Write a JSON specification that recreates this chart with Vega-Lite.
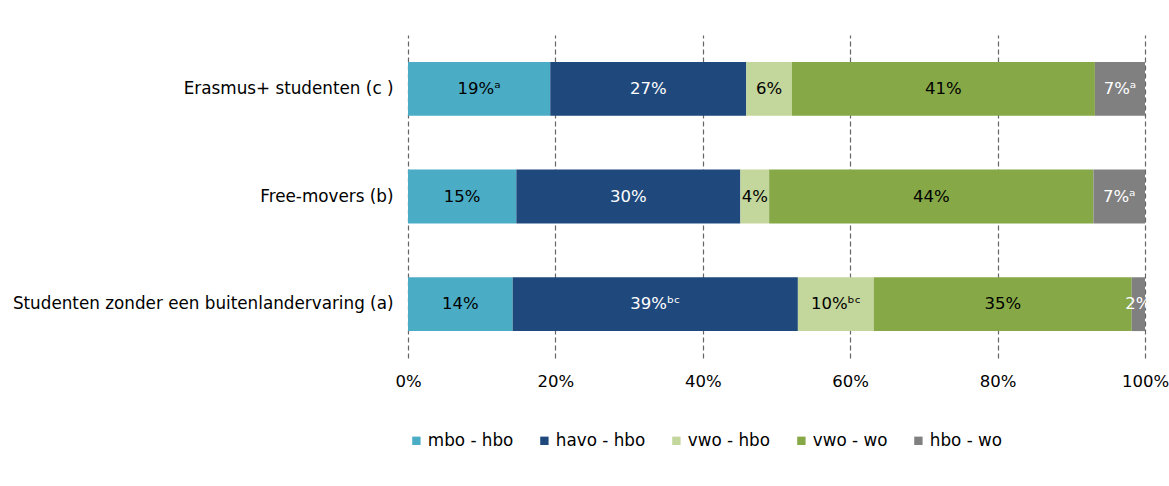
{
  "$schema": "https://vega.github.io/schema/vega-lite/v6.json",
  "autosize": {"type": "none"},
  "width": 737,
  "height": 323,
  "padding": {"left": 408, "top": 35, "right": 24, "bottom": 128},
  "background": "white",
  "config": {
    "view": {"stroke": null},
    "font": "DejaVu Sans"
  },
  "data": {
    "values": [
      {"group": "Erasmus+ studenten (c )", "segment": "mbo - hbo", "order": 1, "value": 19.3, "label": "19%ᵃ"},
      {"group": "Erasmus+ studenten (c )", "segment": "havo - hbo", "order": 2, "value": 26.6, "label": "27%"},
      {"group": "Erasmus+ studenten (c )", "segment": "vwo - hbo", "order": 3, "value": 6.2, "label": "6%"},
      {"group": "Erasmus+ studenten (c )", "segment": "vwo - wo", "order": 4, "value": 41.1, "label": "41%"},
      {"group": "Erasmus+ studenten (c )", "segment": "hbo - wo", "order": 5, "value": 6.8, "label": "7%ᵃ"},
      {"group": "Free-movers (b)", "segment": "mbo - hbo", "order": 1, "value": 14.7, "label": "15%"},
      {"group": "Free-movers (b)", "segment": "havo - hbo", "order": 2, "value": 30.4, "label": "30%"},
      {"group": "Free-movers (b)", "segment": "vwo - hbo", "order": 3, "value": 3.9, "label": "4%"},
      {"group": "Free-movers (b)", "segment": "vwo - wo", "order": 4, "value": 44.0, "label": "44%"},
      {"group": "Free-movers (b)", "segment": "hbo - wo", "order": 5, "value": 7.0, "label": "7%ᵃ"},
      {"group": "Studenten zonder een buitenlandervaring (a)", "segment": "mbo - hbo", "order": 1, "value": 14.2, "label": "14%"},
      {"group": "Studenten zonder een buitenlandervaring (a)", "segment": "havo - hbo", "order": 2, "value": 38.7, "label": "39%ᵇᶜ"},
      {"group": "Studenten zonder een buitenlandervaring (a)", "segment": "vwo - hbo", "order": 3, "value": 10.3, "label": "10%ᵇᶜ"},
      {"group": "Studenten zonder een buitenlandervaring (a)", "segment": "vwo - wo", "order": 4, "value": 35.0, "label": "35%"},
      {"group": "Studenten zonder een buitenlandervaring (a)", "segment": "hbo - wo", "order": 5, "value": 1.8, "label": "2%"}
    ]
  },
  "encoding": {
    "y": {
      "field": "group",
      "type": "nominal",
      "sort": ["Erasmus+ studenten (c )", "Free-movers (b)", "Studenten zonder een buitenlandervaring (a)"],
      "scale": {"paddingInner": 0.5, "paddingOuter": 0.25},
      "axis": {
        "title": null,
        "domain": false,
        "ticks": false,
        "labelPadding": 15,
        "labelFontSize": 16.8,
        "labelColor": "#000000",
        "labelLimit": 500
      }
    }
  },
  "layer": [
    {
      "mark": {"type": "bar"},
      "encoding": {
        "x": {
          "field": "value",
          "type": "quantitative",
          "stack": "zero",
          "scale": {"domain": [0, 100], "nice": false},
          "axis": {
            "title": null,
            "values": [0, 20, 40, 60, 80, 100],
            "labelExpr": "datum.value + '%'",
            "domain": false,
            "ticks": false,
            "grid": true,
            "gridDash": [5, 3],
            "gridColor": "#666666",
            "gridWidth": 1.2,
            "labelPadding": 15,
            "labelFontSize": 16.5,
            "labelColor": "#000000",
            "labelFlush": false
          }
        },
        "color": {
          "field": "segment",
          "type": "nominal",
          "scale": {
            "domain": ["mbo - hbo", "havo - hbo", "vwo - hbo", "vwo - wo", "hbo - wo"],
            "range": ["#4bacc6", "#1f497d", "#c3d69b", "#86a846", "#808080"]
          },
          "legend": {
            "title": null,
            "orient": "bottom",
            "direction": "horizontal",
            "symbolType": "square",
            "symbolSize": 70,
            "symbolStrokeWidth": 0,
            "labelFontSize": 16.8,
            "labelColor": "#000000",
            "labelOffset": 3,
            "columnPadding": 22,
            "offset": 42,
            "padding": 0
          }
        },
        "order": {"field": "order", "type": "quantitative"}
      }
    },
    {
      "mark": {"type": "text", "fontSize": 16.5, "baseline": "middle", "align": "center"},
      "encoding": {
        "x": {"field": "value", "type": "quantitative", "stack": "zero", "bandPosition": 0.5},
        "order": {"field": "order", "type": "quantitative"},
        "detail": {"field": "segment", "type": "nominal"},
        "text": {"field": "label", "type": "nominal"},
        "color": {
          "condition": {"test": "datum.segment === 'havo - hbo' || datum.segment === 'hbo - wo'", "value": "#ffffff"},
          "value": "#000000"
        }
      }
    }
  ]
}
